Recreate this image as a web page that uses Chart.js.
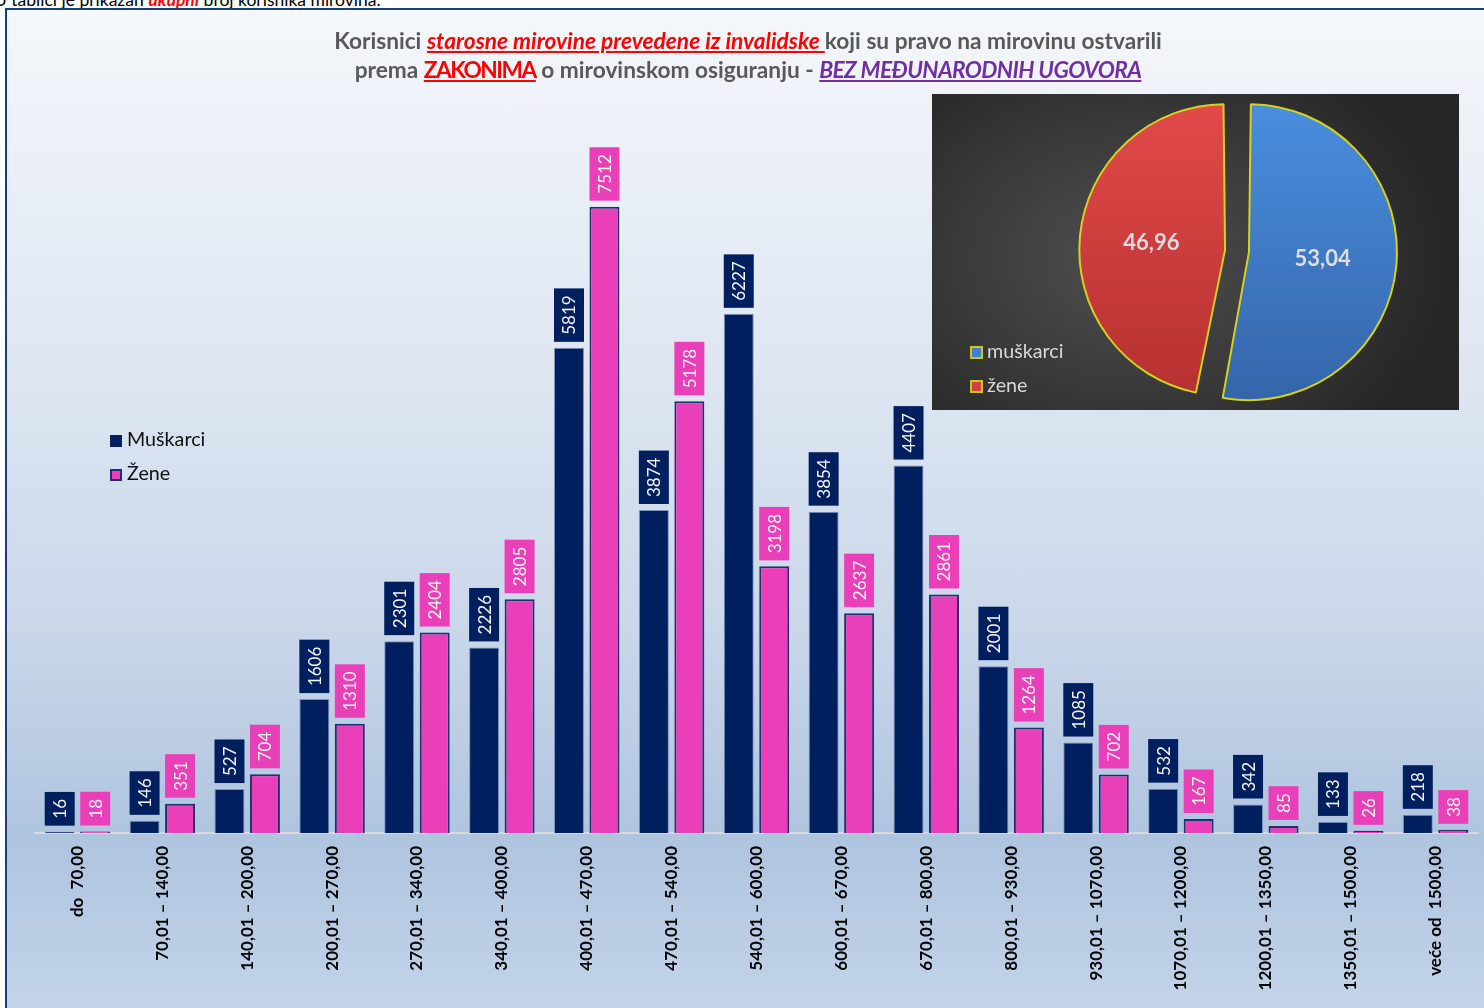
<!DOCTYPE html>
<html>
<head>
<meta charset="utf-8">
<script src="https://cdn.jsdelivr.net/npm/chart.js@4.4.1/dist/chart.umd.min.js"></script>
<style>
  html, body { margin: 0; padding: 0; }
  body { width: 1484px; height: 1008px; overflow: hidden; position: relative; background: #ffffff; font-family: Lato, "Open Sans", sans-serif; }
  #pre { position: absolute; left: -6px; top: -11px; font-size: 17.5px; color: #000; white-space: nowrap; }
  #pre span { color: #ff0000; font-weight: bold; font-style: italic; }
  #frame { position: absolute; left: 5px; top: 8px; width: 1490px; height: 1010px;
    border-left: 2px solid #1f3c7a; border-top: 2px solid #1f3c7a;
    background: linear-gradient(to bottom, #f4f7fb 0%, #e2e9f3 30%, #cbd8ea 60%, #afc4df 82%, #c4d5ea 100%); }
  #main { position: absolute; left: 0; top: 0; }
  #title { position: absolute; left: 0; top: 26px; width: 1496px; text-align: center; font-size: 22.7px; font-weight: bold; line-height: 29px; color: #595959; }
  #title .red { color: #ff0000; text-decoration: underline; text-decoration-color: #ff0000; }
  #title .it { font-style: italic; }
  #title .caps { letter-spacing: -1.5px; }
  #title .pur { color: #7030a0; font-style: italic; text-decoration: underline; text-decoration-color: #7030a0; letter-spacing: -0.6px; }
  #legend { position: absolute; left: 110px; top: 427px; font-size: 19.7px; color: #111; }
  #legend div { height: 34px; line-height: 24px; white-space: nowrap; }
  #legend i { display: inline-block; width: 12px; height: 12px; margin-right: 5px; vertical-align: -1px; box-sizing: border-box; }
  #pieBox { position: absolute; left: 932px; top: 94px; width: 527px; height: 316px;
    background: radial-gradient(ellipse 60% 75% at 38% 52%, #4f4f4f 0%, #3a3a3a 55%, #262626 100%); }
  #pie { position: absolute; left: 0; top: 0; }
  #pieLegend { position: absolute; left: 38px; top: 245px; font-size: 19.7px; color: #d9d9d9; }
  #pieLegend div { height: 34px; line-height: 24px; white-space: nowrap; }
  #pieLegend i { display: inline-block; width: 13px; height: 13px; margin-right: 4px; vertical-align: -1px; box-sizing: border-box; border: 2px solid #c9c61e; }
</style>
</head>
<body>
<div id="pre">U tablici je prikazan <span>ukupni</span> broj korisnika mirovina.</div>
<div id="frame"></div>
<canvas id="main" width="1484" height="1008"></canvas>
<div id="title">Korisnici <span class="red it">starosne mirovine prevedene iz invalidske </span> koji su pravo na mirovinu ostvarili<br>prema <span class="red caps">ZAKONIMA</span> o mirovinskom osiguranju - <span class="pur">BEZ MEĐUNARODNIH UGOVORA</span></div>
<div id="legend">
  <div><i style="background:#001f5f"></i>Muškarci</div>
  <div><i style="background:#e940ba;border:2px solid #1f3070"></i>Žene</div>
</div>
<div id="pieBox">
  <canvas id="pie" width="527" height="316"></canvas>
  <div id="pieLegend">
    <div><i style="background:#3d7fd0"></i>muškarci</div>
    <div><i style="background:#d43f3f"></i>žene</div>
  </div>
</div>
<script>
const categories = ['do  70,00', '70,01 – 140,00', '140,01 – 200,00', '200,01 – 270,00', '270,01 – 340,00', '340,01 – 400,00', '400,01 – 470,00', '470,01 – 540,00', '540,01 – 600,00', '600,01 – 670,00', '670,01 – 800,00', '800,01 – 930,00', '930,01 – 1070,00', '1070,01 – 1200,00', '1200,01 – 1350,00', '1350,01 – 1500,00', 'veće od  1500,00'];
const muskarci = [16, 146, 527, 1606, 2301, 2226, 5819, 3874, 6227, 3854, 4407, 2001, 1085, 532, 342, 133, 218];
const zene = [18, 351, 704, 1310, 2404, 2805, 7512, 5178, 3198, 2637, 2861, 1264, 702, 167, 85, 26, 38];
const seriesNames = ['Muškarci', 'Žene'];
const pieLabels = ['muškarci', 'žene'];
const pieValues = [53.04, 46.96];
const pieValueText = ['53,04', '46,96'];

const NAVY = '#001f5f';
const PINK = '#e940ba';

const barLabelPlugin = {
  id: 'barLabels',
  afterDatasetsDraw(chart) {
    const ctx = chart.ctx;
    ctx.save();
    ctx.font = '17px Lato, "Open Sans", sans-serif';
    chart.data.datasets.forEach((ds, di) => {
      const meta = chart.getDatasetMeta(di);
      meta.data.forEach((bar, i) => {
        const txt = String(ds.data[i]);
        const tw = ctx.measureText(txt).width;
        const h = tw + 14;
        const w = bar.width;
        const bottom = bar.y - 6;
        ctx.fillStyle = ds.labelColor;
        ctx.fillRect(bar.x - w / 2, bottom - h, w, h);
        ctx.save();
        ctx.translate(bar.x, bottom - h / 2);
        ctx.rotate(-Math.PI / 2);
        ctx.fillStyle = '#f4f4f4';
        ctx.textAlign = 'center';
        ctx.textBaseline = 'middle';
        ctx.fillText(txt, 0, 1);
        ctx.restore();
      });
    });
    ctx.restore();
  }
};

new Chart(document.getElementById('main'), {
  type: 'bar',
  data: {
    labels: categories,
    datasets: [
      { label: seriesNames[0], data: muskarci, backgroundColor: NAVY, borderColor: '#7d94bd', borderWidth: 1, labelColor: NAVY,
        categoryPercentage: 0.836, barPercentage: 0.845 },
      { label: seriesNames[1], data: zene, backgroundColor: PINK, borderColor: '#1f3070', borderWidth: 2, labelColor: PINK,
        categoryPercentage: 0.836, barPercentage: 0.845 }
    ]
  },
  options: {
    responsive: false,
    animation: false,
    events: [],
    layout: { padding: { left: 35, right: 6, top: 166, bottom: 0 } },
    plugins: { legend: { display: false }, tooltip: { enabled: false }, title: { display: false } },
    scales: {
      x: {
        grid: { display: false, drawTicks: false, tickLength: 0 },
        border: { display: true, color: '#d6d9de', width: 2 },
        ticks: { color: '#000', font: { family: 'Lato', size: 17, weight: 'bold' }, minRotation: 90, maxRotation: 90, padding: 13, autoSkip: false },
        afterFit(scale) { scale.height = 175; }
      },
      y: { display: false, min: 0, max: 8000 }
    }
  },
  plugins: [barLabelPlugin]
});

const pieLabelPlugin = {
  id: 'pieLabels',
  afterDatasetsDraw(chart) {
    const ctx = chart.ctx;
    const meta = chart.getDatasetMeta(0);
    ctx.save();
    ctx.font = 'bold 22px Lato, "Open Sans", sans-serif';
    ctx.fillStyle = '#dedede';
    ctx.textAlign = 'center';
    ctx.textBaseline = 'middle';
    meta.data.forEach((arc, i) => {
      const mid = (arc.startAngle + arc.endAngle) / 2;
      const d = (arc.outerRadius + 12) * 0.5 + 12;
      ctx.fillText(pieValueText[i], arc.x + Math.cos(mid) * d, arc.y + Math.sin(mid) * d);
    });
    ctx.restore();
  }
};

function sliceFill(context) {
  const c = context.chart.ctx;
  const area = context.chart.chartArea;
  if (!area) return context.dataIndex === 0 ? '#3d7fd0' : '#d43f3f';
  const g = c.createLinearGradient(0, area.top, 0, area.bottom);
  if (context.dataIndex === 0) {
    g.addColorStop(0, '#4a8fe0');
    g.addColorStop(1, '#3464a8');
  } else {
    g.addColorStop(0, '#e44a4a');
    g.addColorStop(1, '#b3302e');
  }
  return g;
}

new Chart(document.getElementById('pie'), {
  type: 'pie',
  data: {
    labels: pieLabels,
    datasets: [{ data: pieValues, backgroundColor: sliceFill, borderColor: '#d4d21f', borderWidth: 2, offset: 48, hoverOffset: 0 }]
  },
  options: {
    responsive: false,
    animation: false,
    events: [],
    rotation: 0,
    radius: 136,
    layout: { padding: { left: 83, right: 0, top: 0, bottom: 2 } },
    plugins: { legend: { display: false }, tooltip: { enabled: false } }
  },
  plugins: [pieLabelPlugin]
});
</script>
</body>
</html>
